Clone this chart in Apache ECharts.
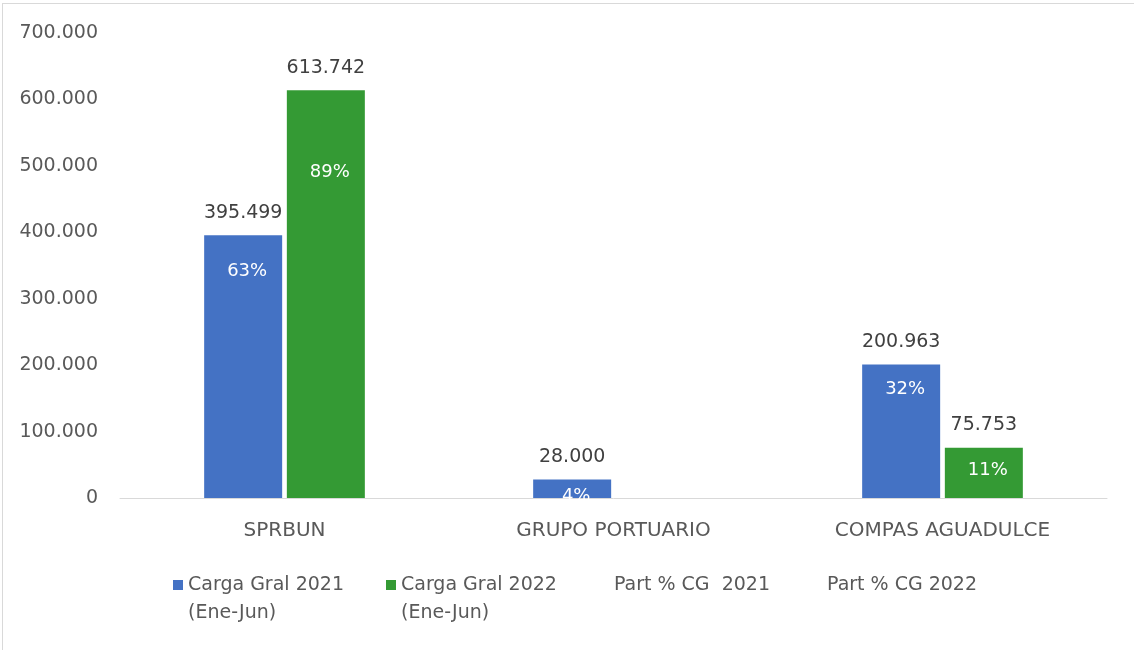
<!DOCTYPE html>
<html>
<head>
<meta charset="utf-8">
<script src="https://cdn.jsdelivr.net/npm/echarts@6/dist/echarts.min.js"></script>
<style>
  html, body { margin: 0; padding: 0; background: #fff; }
  #wrap { position: relative; width: 1134px; height: 650px; overflow: hidden; }
  #chart { width: 1134px; height: 650px; }
  #frame { position: absolute; left: 2px; top: 3px; width: 1200px; height: 700px;
           border-left: 1px solid #d9d9d9; border-top: 1px solid #d9d9d9; pointer-events: none; }
</style>
</head>
<body>
<div id="wrap"><div id="chart"></div><div id="frame"></div></div>
<script>
const categories = ['SPRBUN', 'GRUPO PORTUARIO', 'COMPAS AGUADULCE'];
const seriesNames = ['Carga Gral 2021\n(Ene-Jun)', 'Carga Gral 2022\n(Ene-Jun)', 'Part % CG  2021', 'Part % CG 2022'];
const carga2021 = [395499, 28000, 200963];
const carga2022 = [613742, 0, 75753];
const part2021 = [0.63, 0.04, 0.32];
const part2022 = [0.89, 0.00, 0.11];
const yTicks = { min: 0, max: 700000, interval: 100000 };

const FONT = 'DejaVu Sans';
function thousands(v) {
  return String(Math.round(v)).replace(/\B(?=(\d{3})+(?!\d))/g, '.');
}

const chart = echarts.init(document.getElementById('chart'), null, { renderer: 'canvas' });

const barCommon = {
  type: 'bar',
  barWidth: 78,
  barGap: '6%',
  barCategoryGap: '51%'
};

const valueLabel = {
  show: true,
  position: 'top',
  distance: 13,
  color: '#404040',
  fontFamily: FONT,
  fontSize: 19,
  formatter: p => (p.value === 0 ? '' : thousands(p.value))
};

const pctLabel = {
  show: true,
  position: 'insideTop',
  distance: 5,
  offset: [4, 0],
  color: '#ffffff',
  fontFamily: FONT,
  fontSize: 18,
  formatter: p => Math.round(p.value * 100) + '%'
};

chart.setOption({
  animation: false,
  backgroundColor: '#ffffff',
  textStyle: { fontFamily: FONT },
  grid: { left: 120, right: 27, top: 33, bottom: 152, containLabel: false },
  legend: {
    left: 168,
    top: 538,
    itemWidth: 10,
    itemHeight: 10,
    itemGap: 42,
    icon: 'rect',
    textStyle: { color: '#595959', fontFamily: FONT, fontSize: 19, lineHeight: 28 },
    formatter: name => (name.indexOf('\n') >= 0 ? ' \n' + name : name),
    data: seriesNames
  },
  xAxis: [
    {
      type: 'category',
      data: categories,
      axisLine: { lineStyle: { color: '#d9d9d9', width: 1 } },
      axisTick: { show: false },
      axisLabel: { color: '#595959', fontFamily: FONT, fontSize: 20, margin: 23 }
    },
    {
      type: 'category',
      data: categories,
      show: false
    }
  ],
  yAxis: [
    {
      type: 'value',
      min: yTicks.min,
      max: yTicks.max,
      interval: yTicks.interval,
      splitLine: { show: false },
      axisLine: { show: false },
      axisTick: { show: false },
      axisLabel: { color: '#595959', fontFamily: FONT, fontSize: 19, margin: 22, formatter: v => thousands(v) }
    },
    {
      type: 'value',
      min: 0,
      max: 1.217,
      show: false
    }
  ],
  series: [
    Object.assign({}, barCommon, {
      name: seriesNames[0], data: carga2021, xAxisIndex: 0, yAxisIndex: 0,
      itemStyle: { color: '#4472C4' }, label: valueLabel, z: 2
    }),
    Object.assign({}, barCommon, {
      name: seriesNames[1], data: carga2022, xAxisIndex: 0, yAxisIndex: 0,
      itemStyle: { color: '#349A34' }, label: valueLabel, z: 2
    }),
    Object.assign({}, barCommon, {
      name: seriesNames[2], data: part2021, xAxisIndex: 1, yAxisIndex: 1,
      itemStyle: { color: 'rgba(0,0,0,0)' }, label: pctLabel, z: 3, silent: true
    }),
    Object.assign({}, barCommon, {
      name: seriesNames[3], data: part2022, xAxisIndex: 1, yAxisIndex: 1,
      itemStyle: { color: 'rgba(0,0,0,0)' }, label: pctLabel, z: 3, silent: true
    })
  ]
});
</script>
</body>
</html>
